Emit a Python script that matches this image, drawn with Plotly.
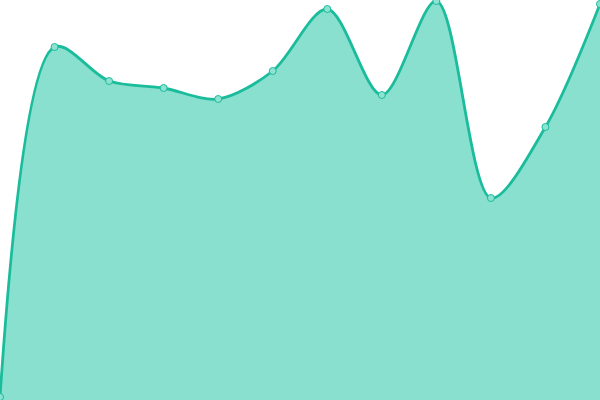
import plotly.graph_objects as go

# values (plot height = 400 units)
x_idx = list(range(12))
values = [3, 353, 319, 312, 301, 329, 391, 305, 399, 202, 273, 396]

line_color = "#1abc9c"
fill_color = "#89e0cf"

fig = go.Figure()
fig.add_trace(go.Scatter(
    x=x_idx,
    y=values,
    mode="lines+markers",
    line=dict(color=line_color, width=2.8, shape="spline", smoothing=0.9),
    fill="tozeroy",
    fillcolor=fill_color,
    marker=dict(size=7, color="#8ee2d1", line=dict(color=line_color, width=1)),
    cliponaxis=False,
    hoverinfo="x+y",
))

fig.update_layout(
    width=600,
    height=400,
    margin=dict(l=0, r=0, t=0, b=0),
    paper_bgcolor="white",
    plot_bgcolor="white",
    showlegend=False,
    xaxis=dict(visible=False, range=[0, 11], fixedrange=True),
    yaxis=dict(visible=False, range=[0, 400], fixedrange=True),
)

# drop the page's default body margin so the chart sits at the window corner
fig.write_html(
    "out.html",
    config={"displayModeBar": False},
    post_script="document.body.style.margin='0';",
)
